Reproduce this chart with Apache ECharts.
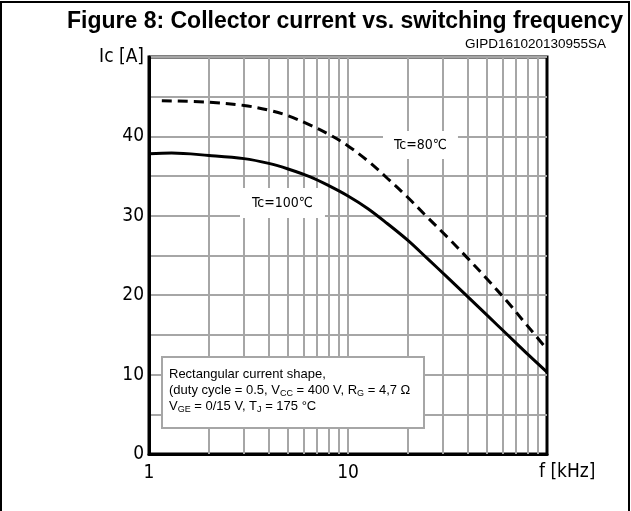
<!DOCTYPE html>
<html>
<head>
<meta charset="utf-8">
<script src="https://cdn.jsdelivr.net/npm/echarts@6/dist/echarts.min.js"></script>
<style>html,body{margin:0;padding:0;background:#fff;}#c{width:631px;height:511px;}</style>
</head>
<body>
<div id="c"></div>
<script>
// Data
const freqTicks = [1, 10, 100];
const minorGridX = [2,3,4,5,6,7,8,9,10,20,30,40,50,60,70,80,90];
const yTicks = [0,5,10,15,20,25,30,35,40,45,50];
const tc100 = [[1,37.8],[1.3,37.9],[2,37.6],[3,37.2],[4,36.6],[5,35.9],[6.46,34.9],[8,33.8],[10,32.5],[12.6,30.9],[15.8,29.0],[20,26.9],[25.1,24.6],[31.6,22.25],[39.8,19.85],[50.1,17.45],[63.1,15.05],[79.4,12.65],[100,10.3]];
const tc80 = [[1.16,44.5],[2,44.3],[3,43.9],[4,43.3],[5,42.6],[6.5,41.4],[8.1,40.2],[10,38.8],[12.6,36.9],[15.8,34.7],[20,32.3],[25.1,29.8],[31.6,27.3],[39.8,24.7],[50.1,22.0],[63.1,19.2],[79.4,16.2],[100,13.2]];

const tickFont = '"DejaVu Sans Condensed", "DejaVu Sans", sans-serif';
const chart = echarts.init(document.getElementById('c'), null, {renderer: 'canvas'});
chart.setOption({
  animation: false,
  backgroundColor: '#fff',
  title: {
    text: 'Figure 8: Collector current vs. switching frequency',
    left: 62, top: 5,
    textStyle: {fontFamily: '"Liberation Sans", Arial, sans-serif', fontWeight: 'bold', fontSize: 23, color: '#000'}
  },
  grid: {left: 149, top: 57, right: 84, bottom: 57, show: true, borderColor: '#000', borderWidth: 3, backgroundColor: 'transparent'},
  xAxis: {
    type: 'log', logBase: 10, min: freqTicks[0], max: freqTicks[freqTicks.length - 1],
    axisLine: {show: true, lineStyle: {color: '#000', width: 3}},
    axisTick: {show: false},
    splitLine: {show: false},
    minorTick: {show: false},
    axisLabel: {
      margin: 10, fontFamily: tickFont, fontSize: 19, color: '#000',
      formatter: v => (v === 100 ? '' : String(v))
    }
  },
  yAxis: {
    type: 'value', min: yTicks[0], max: yTicks[yTicks.length - 1], interval: 5,
    axisLine: {show: true, lineStyle: {color: '#000', width: 3}},
    axisTick: {show: false},
    splitLine: {show: true, lineStyle: {color: '#a6a6a6', width: 2}},
    axisLabel: {
      margin: 5, fontFamily: tickFont, fontSize: 19, color: '#000',
      formatter: v => (v === 50 ? 'Ic [A]' : (v % 10 === 0 ? String(v) : ''))
    }
  },
  series: [
    {
      type: 'line', data: [], z: 1, silent: true,
      markLine: {
        silent: true, symbol: ['none', 'none'], label: {show: false}, animation: false,
        lineStyle: {color: '#a6a6a6', width: 2, type: 'solid'},
        data: minorGridX.map(v => ({xAxis: v}))
      }
    },
    {
      name: 'Tc=100', type: 'line', data: tc100, smooth: 0.35, showSymbol: false, z: 5,
      lineStyle: {color: '#000', width: 3, type: 'solid'}
    },
    {
      name: 'Tc=80', type: 'line', data: tc80, smooth: 0.35, showSymbol: false, z: 5,
      lineStyle: {color: '#000', width: 3, type: [10, 6]}
    }
  ],
  graphic: [
    {type: 'rect', shape: {x: 1, y: 2, width: 628, height: 530}, style: {fill: 'none', stroke: '#000', lineWidth: 2}, silent: true, z: 100},
    {type: 'text', right: 25, top: 37, style: {text: 'GIPD161020130955SA', font: '13.5px "Liberation Sans", Arial, sans-serif', fill: '#000'}, z: 100},
    {type: 'text', left: 539, top: 463, style: {text: 'f [kHz]', font: '19px ' + tickFont, fill: '#000'}, z: 100},
    {type: 'text', left: 383, top: 131, z: 50, style: {
      text: 'Tc=80℃', font: '14px ' + tickFont, fill: '#000', backgroundColor: '#fff', padding: [7, 11, 7, 11]
    }},
    {type: 'text', left: 240, top: 188, z: 50, style: {
      text: 'Tc=100℃', font: '14px ' + tickFont, fill: '#000', backgroundColor: '#fff', padding: [8, 12, 8, 12]
    }},
    {type: 'rect', shape: {x: 162, y: 357, width: 262, height: 71}, style: {fill: '#fff', stroke: '#a6a6a6', lineWidth: 2}, z: 50},
    {type: 'text', left: 169, top: 366, z: 51, style: {
      text: 'Rectangular current shape,\n(duty cycle = 0.5, V{s|CC} = 400 V, R{s|G} = 4,7 Ω\nV{s|GE} = 0/15 V, T{s|J} = 175 °C',
      font: '13px "Liberation Sans", Arial, sans-serif', fill: '#000', lineHeight: 16,
      rich: {s: {fontSize: 9, fontFamily: '"Liberation Sans", Arial, sans-serif', verticalAlign: 'bottom', lineHeight: 12, fill: '#000'}}
    }}
  ]
});
</script>
</body>
</html>
